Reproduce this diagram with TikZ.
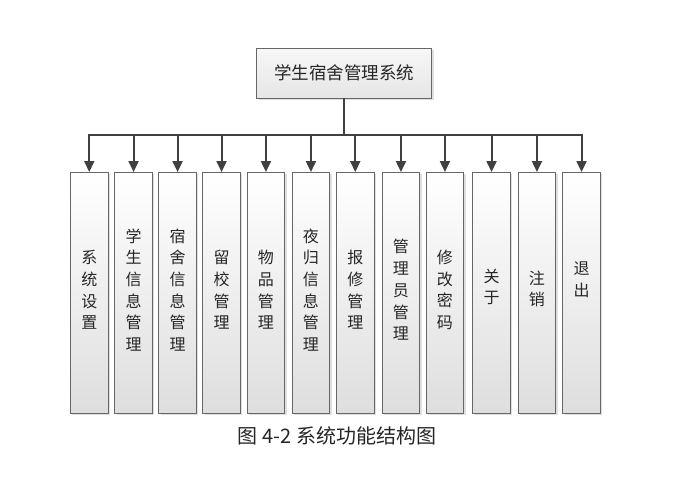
\documentclass[tikz,border=0pt]{standalone}
\usepackage{fontspec}
\setmainfont{Noto Sans CJK SC}
\usetikzlibrary{arrows.meta,shadows}
\begin{document}
\begin{tikzpicture}[x=1pt,y=-1pt,
  sub/.style={draw=black!60, line width=0.8pt, top color=white, bottom color=black!13,
    drop shadow={shadow xshift=2pt,shadow yshift=-2pt,opacity=0.25},
    minimum width=37.7pt, minimum height=241pt, inner sep=0pt, anchor=north west},
  topbox/.style={draw=black!60, line width=0.8pt, top color=black!3, bottom color=black!10,
    drop shadow={shadow xshift=2pt,shadow yshift=-2pt,opacity=0.25},
    minimum width=175pt, minimum height=50pt, inner sep=0pt,
    font=\fontsize{17.5}{20}\selectfont, text=black!85},
  lbl/.style={font=\fontsize{16}{21.7}\selectfont, align=center, text=black!85, inner sep=0pt},
  conn/.style={draw=black!75, line width=2pt},
  arr/.style={conn, -{Triangle[width=10pt,length=11pt]}}
]
\useasboundingbox (0,0) rectangle (688,491);
\node[topbox] (root) at (344,73) {学生宿舍管理系统};
% boxes
\node[sub] (b1) at (70,172) {};
\node[sub] (b2) at (114.3,172) {};
\node[sub] (b3) at (158.3,172) {};
\node[sub] (b4) at (202.3,172) {};
\node[sub] (b5) at (246.7,172) {};
\node[sub] (b6) at (291.7,172) {};
\node[sub] (b7) at (336,172) {};
\node[sub] (b8) at (381.7,172) {};
\node[sub] (b9) at (425.7,172) {};
\node[sub] (b10) at (472.3,172) {};
\node[sub] (b11) at (517.7,172) {};
\node[sub] (b12) at (562.3,172) {};
% labels
\node[lbl] (t1) at (b1.center |- 0,290) {系\\统\\设\\置};
\node[lbl] (t2) at (b2.center |- 0,290) {学\\生\\信\\息\\管\\理};
\node[lbl] (t3) at (b3.center |- 0,290) {宿\\舍\\信\\息\\管\\理};
\node[lbl] (t4) at (b4.center |- 0,290) {留\\校\\管\\理};
\node[lbl] (t5) at (b5.center |- 0,290) {物\\品\\管\\理};
\node[lbl] (t6) at (b6.center |- 0,290) {夜\\归\\信\\息\\管\\理};
\node[lbl] (t7) at (b7.center |- 0,290) {报\\修\\管\\理};
\node[lbl] (t8) at (b8.center |- 0,290) {管\\理\\员\\管\\理};
\node[lbl] (t9) at (b9.center |- 0,290) {修\\改\\密\\码};
\node[lbl] (t10) at (b10.center |- 0,287) {关\\于};
\node[lbl] (t11) at (b11.center |- 0,289) {注\\销};
\node[lbl] (t12) at (b12.center |- 0,280) {退\\出};
% connectors
\coordinate (bar) at (344,135);
\draw[conn] (root.south) -- (bar);
\draw[conn, line cap=rect] (b1.north |- bar) -- (b12.north |- bar);
\foreach \i in {1,...,12} {
  \draw[arr] (b\i.north |- bar) -- (b\i.north);
}
\node[font=\fontsize{20}{22}\selectfont, text=black!85, inner sep=0pt] (cap) at (337,436) {图 4-2 系统功能结构图};
\end{tikzpicture}
\end{document}
